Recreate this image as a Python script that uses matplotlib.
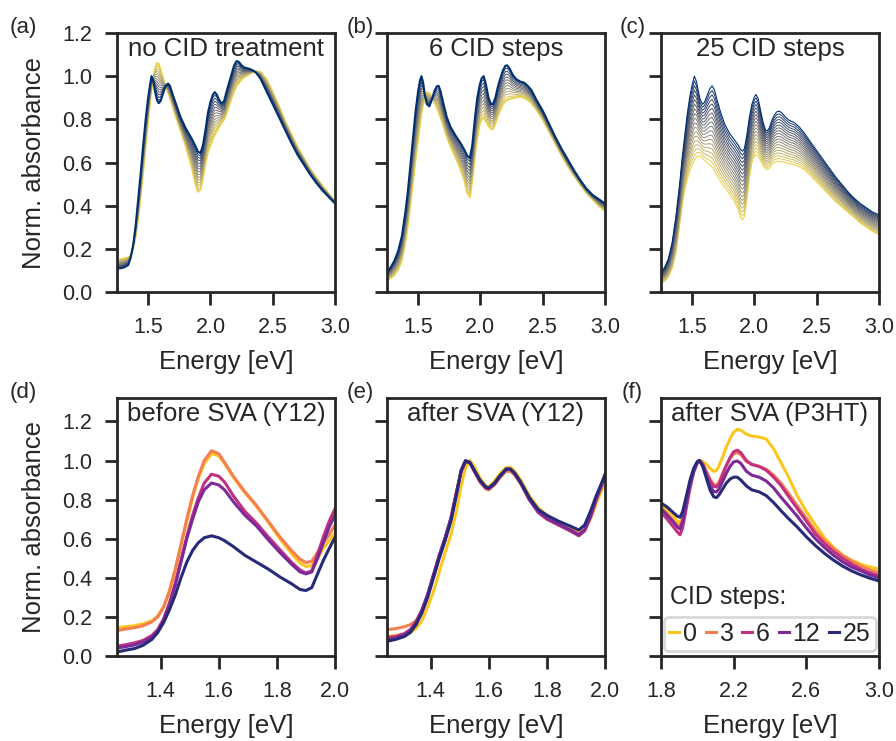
import matplotlib
matplotlib.use("Agg")
import matplotlib.pyplot as plt
import numpy as np

plt.rcParams['font.family'] = ['Liberation Sans', 'DejaVu Sans']
plt.rcParams['text.color'] = '#262626'
plt.rcParams['axes.labelcolor'] = '#262626'
plt.rcParams['xtick.color'] = '#262626'
plt.rcParams['ytick.color'] = '#262626'

# --- top row: CID series (first = yellow, last = dark blue) ---
energy_a = [1.25, 1.28, 1.31, 1.34, 1.36, 1.38, 1.40, 1.42, 1.44, 1.46, 1.48, 1.50, 1.515,
            1.527, 1.54, 1.555, 1.57, 1.585, 1.60, 1.62, 1.64, 1.66, 1.675, 1.70, 1.73, 1.76,
            1.80, 1.85, 1.88, 1.90, 1.92, 1.94, 1.96, 1.98, 2.00, 2.02, 2.035, 2.05, 2.07,
            2.09, 2.11, 2.13, 2.15, 2.17, 2.19, 2.21, 2.23, 2.25, 2.27, 2.30, 2.33, 2.36,
            2.40, 2.45, 2.50, 2.55, 2.60, 2.65, 2.70, 2.75, 2.80, 2.85, 2.90, 2.95, 3.00]
first_a = [0.148, 0.152, 0.156, 0.16, 0.17, 0.20, 0.26, 0.34, 0.45, 0.56, 0.68, 0.80, 0.88,
           0.94, 0.99, 1.035, 1.06, 1.055, 1.03, 0.99, 0.955, 0.925, 0.90, 0.855, 0.80, 0.75,
           0.68, 0.58, 0.50, 0.465, 0.475, 0.53, 0.60, 0.65, 0.68, 0.71, 0.73, 0.745, 0.765,
           0.785, 0.80, 0.83, 0.865, 0.90, 0.93, 0.955, 0.97, 0.985, 0.995, 1.005, 1.015, 1.022,
           1.02, 0.985, 0.925, 0.86, 0.79, 0.73, 0.67, 0.62, 0.57, 0.53, 0.49, 0.455, 0.42]
last_a = [0.11, 0.11, 0.115, 0.125, 0.16, 0.22, 0.31, 0.43, 0.55, 0.68, 0.80, 0.90, 0.96,
          1.0, 0.98, 0.93, 0.89, 0.875, 0.885, 0.92, 0.955, 0.966, 0.955, 0.91, 0.86, 0.81,
          0.76, 0.71, 0.675, 0.65, 0.643, 0.68, 0.75, 0.83, 0.88, 0.915, 0.926, 0.915, 0.89,
          0.873, 0.885, 0.93, 0.97, 1.01, 1.05, 1.07, 1.065, 1.05, 1.04, 1.036, 1.03, 1.02,
          0.99, 0.93, 0.87, 0.81, 0.75, 0.69, 0.635, 0.59, 0.545, 0.505, 0.47, 0.44, 0.41]
n_a = 15

energy_b = [1.25, 1.28, 1.31, 1.34, 1.37, 1.40, 1.42, 1.44, 1.46, 1.48, 1.50, 1.515, 1.527,
            1.54, 1.555, 1.57, 1.59, 1.61, 1.63, 1.65, 1.665, 1.68, 1.70, 1.73, 1.76, 1.80,
            1.84, 1.87, 1.895, 1.915, 1.935, 1.955, 1.975, 1.995, 2.01, 2.026, 2.045, 2.065,
            2.085, 2.10, 2.12, 2.14, 2.16, 2.18, 2.20, 2.215, 2.235, 2.26, 2.29, 2.32, 2.35,
            2.38, 2.41, 2.45, 2.50, 2.55, 2.60, 2.65, 2.70, 2.75, 2.80, 2.85, 2.90, 2.95, 3.00]
first_b = [0.056, 0.065, 0.08, 0.105, 0.15, 0.24, 0.32, 0.42, 0.52, 0.62, 0.71, 0.78, 0.83,
           0.87, 0.905, 0.925, 0.92, 0.905, 0.88, 0.855, 0.835, 0.81, 0.775, 0.72, 0.675, 0.625,
           0.57, 0.52, 0.46, 0.44, 0.52, 0.63, 0.72, 0.78, 0.80, 0.81, 0.79, 0.77,
           0.755, 0.755, 0.78, 0.815, 0.845, 0.87, 0.885, 0.89, 0.895, 0.898, 0.902, 0.905, 0.90,
           0.89, 0.875, 0.845, 0.80, 0.745, 0.69, 0.635, 0.585, 0.54, 0.50, 0.46, 0.43, 0.40, 0.375]
last_b = [0.09, 0.115, 0.145, 0.19, 0.26, 0.38, 0.48, 0.60, 0.72, 0.84, 0.93, 0.98, 1.0,
          0.97, 0.91, 0.87, 0.86, 0.89, 0.93, 0.953, 0.955, 0.93, 0.88, 0.81, 0.765, 0.725,
          0.69, 0.66, 0.63, 0.62, 0.68, 0.80, 0.90, 0.96, 0.99, 1.0, 0.96, 0.90,
          0.87, 0.87, 0.90, 0.95, 0.99, 1.025, 1.048, 1.05, 1.035, 1.005, 0.985, 0.975, 0.97,
          0.955, 0.935, 0.89, 0.84, 0.78, 0.72, 0.665, 0.615, 0.565, 0.52, 0.48, 0.45, 0.43, 0.41]
n_b = 13

energy_c = [1.25, 1.28, 1.31, 1.34, 1.37, 1.40, 1.42, 1.44, 1.46, 1.48, 1.50, 1.518, 1.535,
            1.55, 1.565, 1.584, 1.60, 1.62, 1.64, 1.66, 1.68, 1.70, 1.73, 1.76, 1.80, 1.84,
            1.87, 1.89, 1.905, 1.92, 1.94, 1.96, 1.98, 2.00, 2.013, 2.03, 2.05, 2.07, 2.09,
            2.10, 2.12, 2.14, 2.16, 2.18, 2.20, 2.22, 2.25, 2.28, 2.32, 2.36, 2.40, 2.45,
            2.50, 2.55, 2.60, 2.65, 2.70, 2.75, 2.80, 2.85, 2.90, 2.95, 3.00]
first_c = [0.04, 0.05, 0.07, 0.11, 0.18, 0.31, 0.40, 0.47, 0.52, 0.56, 0.59, 0.61, 0.625,
           0.63, 0.63, 0.62, 0.61, 0.60, 0.59, 0.58, 0.56, 0.54, 0.51, 0.485, 0.455, 0.42,
           0.38, 0.345, 0.335, 0.35, 0.43, 0.53, 0.60, 0.63, 0.636, 0.63, 0.61, 0.585, 0.57,
           0.567, 0.575, 0.59, 0.60, 0.605, 0.605, 0.603, 0.60, 0.595, 0.59, 0.58, 0.567, 0.54,
           0.51, 0.48, 0.45, 0.42, 0.395, 0.37, 0.345, 0.32, 0.30, 0.28, 0.265]
last_c = [0.09, 0.115, 0.155, 0.23, 0.35, 0.50, 0.62, 0.72, 0.82, 0.90, 0.96, 1.0, 0.975,
          0.93, 0.89, 0.87, 0.88, 0.91, 0.94, 0.955, 0.935, 0.89, 0.83, 0.78, 0.735, 0.705,
          0.68, 0.66, 0.652, 0.665, 0.73, 0.81, 0.87, 0.905, 0.915, 0.895, 0.84, 0.785, 0.75,
          0.745, 0.76, 0.795, 0.82, 0.835, 0.838, 0.83, 0.81, 0.795, 0.785, 0.765, 0.737, 0.695,
          0.655, 0.615, 0.575, 0.535, 0.50, 0.465, 0.435, 0.41, 0.39, 0.37, 0.358]
n_c = 19

# --- bottom row: CID steps 0, 3, 6, 12, 25 ---
cid_steps = ['0', '3', '6', '12', '25']
cid_colors = ['#fcc51f', '#f47f50', '#c2317f', '#7b2a98', '#272a78']

energy_d = [1.25, 1.28, 1.31, 1.34, 1.37, 1.39, 1.41, 1.43, 1.45, 1.47, 1.49, 1.51, 1.53,
            1.55, 1.575, 1.60, 1.62, 1.65, 1.69, 1.73, 1.77, 1.81, 1.85, 1.88, 1.90, 1.92,
            1.94, 1.96, 1.98, 2.00]
d_0 = [0.145, 0.15, 0.155, 0.165, 0.18, 0.205, 0.25, 0.33, 0.44, 0.565, 0.69, 0.81, 0.91,
       0.985, 1.035, 1.025, 0.985, 0.915, 0.835, 0.765, 0.685, 0.60, 0.525, 0.475, 0.458, 0.463,
       0.50, 0.55, 0.59, 0.63]
d_3 = [0.13, 0.138, 0.145, 0.155, 0.175, 0.20, 0.25, 0.33, 0.44, 0.57, 0.70, 0.82, 0.92,
       1.00, 1.05, 1.035, 0.99, 0.92, 0.84, 0.77, 0.69, 0.61, 0.54, 0.495, 0.478, 0.485,
       0.53, 0.58, 0.62, 0.67]
d_6 = [0.05, 0.058, 0.067, 0.08, 0.105, 0.135, 0.19, 0.27, 0.37, 0.49, 0.61, 0.72, 0.81,
       0.885, 0.93, 0.92, 0.89, 0.82, 0.74, 0.68, 0.61, 0.545, 0.48, 0.44, 0.425, 0.435,
       0.52, 0.61, 0.69, 0.753]
d_12 = [0.04, 0.048, 0.057, 0.072, 0.097, 0.127, 0.18, 0.26, 0.36, 0.48, 0.60, 0.70, 0.79,
        0.85, 0.885, 0.875, 0.85, 0.79, 0.72, 0.665, 0.595, 0.53, 0.47, 0.43, 0.42, 0.43,
        0.50, 0.58, 0.66, 0.72]
d_25 = [0.02, 0.03, 0.038, 0.055, 0.085, 0.12, 0.17, 0.235, 0.31, 0.40, 0.48, 0.54, 0.58,
        0.605, 0.615, 0.605, 0.59, 0.56, 0.515, 0.48, 0.445, 0.405, 0.37, 0.34, 0.335, 0.35,
        0.42, 0.49, 0.55, 0.607]

energy_e = [1.25, 1.28, 1.31, 1.33, 1.35, 1.37, 1.39, 1.41, 1.43, 1.45, 1.47, 1.49, 1.505,
            1.52, 1.535, 1.55, 1.57, 1.59, 1.60, 1.62, 1.64, 1.66, 1.675, 1.69, 1.71, 1.74,
            1.77, 1.80, 1.84, 1.88, 1.91, 1.93, 1.95, 1.97, 2.00]
e_0 = [0.10, 0.105, 0.11, 0.12, 0.14, 0.18, 0.25, 0.33, 0.43, 0.53, 0.62, 0.75, 0.87,
       0.96, 1.0, 0.97, 0.91, 0.87, 0.865, 0.895, 0.935, 0.965, 0.965, 0.945, 0.90, 0.82,
       0.76, 0.72, 0.685, 0.655, 0.635, 0.645, 0.70, 0.78, 0.89]
e_3 = [0.135, 0.14, 0.15, 0.16, 0.18, 0.23, 0.31, 0.41, 0.51, 0.60, 0.70, 0.84, 0.94,
       0.995, 0.99, 0.945, 0.89, 0.855, 0.85, 0.875, 0.915, 0.945, 0.945, 0.925, 0.88, 0.80,
       0.74, 0.705, 0.675, 0.65, 0.625, 0.645, 0.71, 0.80, 0.90]
e_6 = [0.095, 0.10, 0.115, 0.135, 0.175, 0.235, 0.315, 0.415, 0.515, 0.605, 0.705, 0.845, 0.945,
       0.995, 0.99, 0.95, 0.895, 0.86, 0.855, 0.88, 0.92, 0.955, 0.955, 0.93, 0.885, 0.80,
       0.735, 0.70, 0.67, 0.64, 0.615, 0.64, 0.71, 0.80, 0.92]
e_12 = [0.085, 0.092, 0.107, 0.13, 0.17, 0.232, 0.315, 0.415, 0.515, 0.605, 0.705, 0.845, 0.945,
        0.995, 0.99, 0.95, 0.895, 0.862, 0.858, 0.882, 0.922, 0.957, 0.957, 0.932, 0.887, 0.80,
        0.738, 0.705, 0.675, 0.645, 0.62, 0.645, 0.715, 0.805, 0.93]
e_25 = [0.075, 0.085, 0.10, 0.12, 0.16, 0.22, 0.30, 0.40, 0.50, 0.59, 0.69, 0.83, 0.95,
        1.0, 0.99, 0.95, 0.90, 0.865, 0.86, 0.885, 0.925, 0.955, 0.955, 0.935, 0.89, 0.81,
        0.75, 0.72, 0.69, 0.665, 0.645, 0.67, 0.74, 0.82, 0.925]

energy_f = [1.80, 1.83, 1.86, 1.89, 1.905, 1.92, 1.94, 1.96, 1.98, 2.00, 2.012, 2.03, 2.05,
            2.07, 2.09, 2.105, 2.12, 2.14, 2.16, 2.18, 2.20, 2.22, 2.24, 2.27, 2.30, 2.34,
            2.38, 2.42, 2.46, 2.50, 2.55, 2.60, 2.65, 2.70, 2.75, 2.80, 2.85, 2.90, 2.95, 3.00]
f_0 = [0.77, 0.745, 0.72, 0.69, 0.68, 0.72, 0.81, 0.89, 0.95, 0.99, 1.0, 0.995, 0.98,
       0.96, 0.945, 0.948, 0.975, 1.02, 1.07, 1.11, 1.145, 1.16, 1.155, 1.135, 1.125, 1.12,
       1.11, 1.06, 0.99, 0.92, 0.82, 0.74, 0.67, 0.605, 0.555, 0.515, 0.49, 0.47, 0.455, 0.444]
f_3 = [0.76, 0.73, 0.70, 0.67, 0.665, 0.70, 0.79, 0.88, 0.95, 0.99, 1.0, 0.985, 0.945,
       0.905, 0.878, 0.875, 0.89, 0.935, 0.975, 1.01, 1.035, 1.04, 1.03, 0.995, 0.98, 0.97,
       0.955, 0.925, 0.885, 0.835, 0.77, 0.705, 0.64, 0.59, 0.55, 0.515, 0.485, 0.46, 0.44, 0.425]
f_6 = [0.736, 0.705, 0.67, 0.635, 0.62, 0.66, 0.76, 0.86, 0.94, 0.99, 1.0, 0.98, 0.935,
       0.895, 0.868, 0.865, 0.88, 0.93, 0.975, 1.015, 1.045, 1.053, 1.04, 1.0, 0.98, 0.97,
       0.95, 0.915, 0.873, 0.82, 0.755, 0.69, 0.625, 0.575, 0.535, 0.50, 0.47, 0.444, 0.425, 0.41]
f_12 = [0.753, 0.725, 0.695, 0.66, 0.65, 0.69, 0.785, 0.875, 0.945, 0.99, 1.0, 0.975, 0.92,
        0.87, 0.842, 0.839, 0.855, 0.895, 0.935, 0.97, 0.993, 0.998, 0.985, 0.945, 0.925, 0.915,
        0.895, 0.86, 0.813, 0.77, 0.715, 0.655, 0.60, 0.555, 0.515, 0.482, 0.455, 0.436, 0.415, 0.40]
f_25 = [0.782, 0.765, 0.74, 0.715, 0.71, 0.74, 0.82, 0.90, 0.96, 0.995, 1.0, 0.97, 0.91,
        0.85, 0.815, 0.81, 0.825, 0.855, 0.885, 0.905, 0.915, 0.915, 0.90, 0.87, 0.85, 0.84,
        0.82, 0.785, 0.744, 0.705, 0.66, 0.61, 0.565, 0.525, 0.49, 0.46, 0.435, 0.415, 0.398, 0.384]

fig = plt.figure(figsize=(8.96, 7.41), dpi=100)

lefts = [0.1306, 0.4319, 0.7377]
w = 0.2433
top_axes = [fig.add_axes([l, 0.6059, w, 0.3496]) for l in lefts]
bot_axes = [fig.add_axes([l, 0.1147, w, 0.3482]) for l in lefts]


def style(ax):
    for s in ax.spines.values():
        s.set_linewidth(2.0)
        s.set_color('#262626')
    ax.tick_params(direction='out', length=9, width=2, labelsize=15.5, pad=9)
    ax.set_xlabel('Energy [eV]', fontsize=18.5, labelpad=8.5)


# top row
top_data = [(energy_a, first_a, last_a, n_a, 'no CID treatment', 1.5),
            (energy_b, first_b, last_b, n_b, '6 CID steps', 1.5),
            (energy_c, first_c, last_c, n_c, '25 CID steps', 0.8)]
cmap = plt.get_cmap('cividis')
for ax, (en, y0, y1, n, title, lw_end) in zip(top_axes, top_data):
    y0 = np.array(y0)
    y1 = np.array(y1)
    for k in range(n):
        t = k / (n - 1)
        lw = lw_end if k in (0, n - 1) else 0.7
        ax.plot(en, (1 - t) * y0 + t * y1, color=cmap(0.92 - 0.84 * t), lw=lw)
    ax.set_xlim(1.25, 3.0)
    ax.set_ylim(0, 1.2)
    ax.set_xticks([1.5, 2.0, 2.5, 3.0])
    ax.set_yticks([0, 0.2, 0.4, 0.6, 0.8, 1.0, 1.2])
    ax.text(0.5, 0.985, title, transform=ax.transAxes, ha='center', va='top', fontsize=18.5)
    style(ax)

# bottom row
bot_data = [(energy_d, [d_0, d_3, d_6, d_12, d_25], 'before SVA (Y12)', (1.25, 2.0)),
            (energy_e, [e_0, e_3, e_6, e_12, e_25], 'after SVA (Y12)', (1.25, 2.0)),
            (energy_f, [f_0, f_3, f_6, f_12, f_25], 'after SVA (P3HT)', (1.8, 3.0))]
for ax, (en, series, title, xl) in zip(bot_axes, bot_data):
    for ys, c, lab in zip(series, cid_colors, cid_steps):
        ax.plot(en, ys, color=c, lw=2.2, label=lab)
    ax.set_xlim(*xl)
    ax.set_ylim(0, 1.32)
    ax.set_yticks([0, 0.2, 0.4, 0.6, 0.8, 1.0, 1.2])
    ax.text(0.5, 0.985, title, transform=ax.transAxes, ha='center', va='top', fontsize=18.5)
    style(ax)

bot_axes[0].set_xticks([1.4, 1.6, 1.8, 2.0])
bot_axes[1].set_xticks([1.4, 1.6, 1.8, 2.0])
bot_axes[2].set_xticks([1.8, 2.2, 2.6, 3.0])

for ax in [top_axes[0], bot_axes[0]]:
    ax.set_ylabel('Norm. absorbance', fontsize=18.5, labelpad=11)
for ax in top_axes[1:] + bot_axes[1:]:
    ax.set_yticklabels([])

axf = bot_axes[2]
leg = axf.legend(loc='lower center', ncol=5, handlelength=0.4, handletextpad=0.15,
                 columnspacing=0.35, borderpad=0.2, borderaxespad=0.2, fontsize=18,
                 frameon=True, fancybox=True)
leg.get_frame().set_edgecolor('#cfcfcf')
leg.get_frame().set_linewidth(2)
axf.text(0.04, 0.2, 'CID steps:', transform=axf.transAxes, ha='left', va='baseline', fontsize=18)

# panel labels
label_pos = [(0.011, 0.963), (0.387, 0.963), (0.692, 0.963),
             (0.011, 0.47), (0.387, 0.47), (0.694, 0.47)]
for lab, (px, py) in zip(['(a)', '(b)', '(c)', '(d)', '(e)', '(f)'], label_pos):
    fig.text(px, py, lab, ha='left', va='center', fontsize=16)

fig.savefig('out.png', dpi=100)
